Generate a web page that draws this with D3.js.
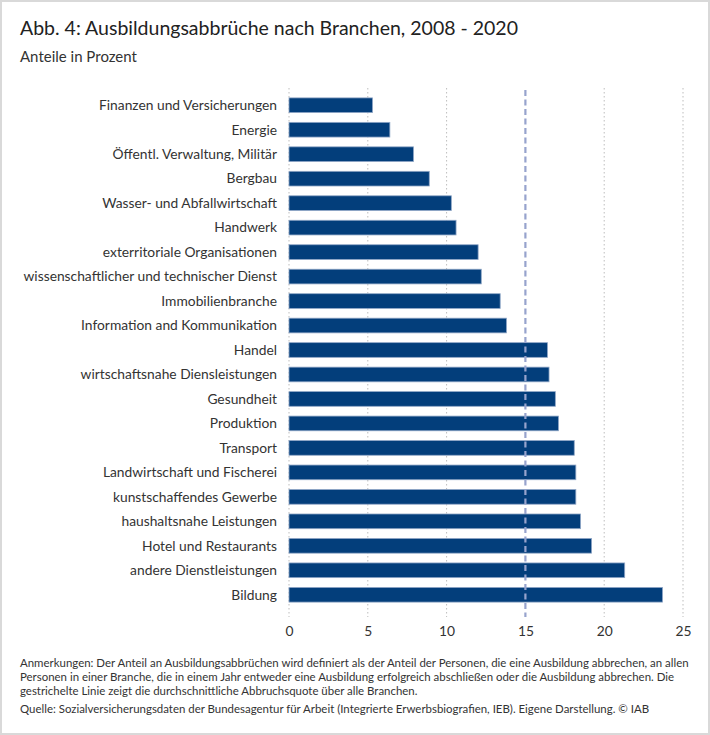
<!DOCTYPE html>
<html>
<head>
<meta charset="utf-8">
<script src="https://cdn.jsdelivr.net/npm/d3@7"></script>
<style>
  body { margin: 0; background: #fff; }
  svg text { font-family: "Source Sans Pro", Lato, sans-serif; }
</style>
</head>
<body>
<svg id="chart" width="710" height="735"></svg>
<script>
// branch names, top to bottom
const branchen = [
  'Finanzen und Versicherungen',
  'Energie',
  'Öffentl. Verwaltung, Militär',
  'Bergbau',
  'Wasser- und Abfallwirtschaft',
  'Handwerk',
  'exterritoriale Organisationen',
  'wissenschaftlicher und technischer Dienst',
  'Immobilienbranche',
  'Information and Kommunikation',
  'Handel',
  'wirtschaftsnahe Diensleistungen',
  'Gesundheit',
  'Produktion',
  'Transport',
  'Landwirtschaft und Fischerei',
  'kunstschaffendes Gewerbe',
  'haushaltsnahe Leistungen',
  'Hotel und Restaurants',
  'andere Dienstleistungen',
  'Bildung'
]
// share of dropouts in percent
const anteile = [5.3, 6.4, 7.9, 8.9, 10.3, 10.6, 12.0, 12.2, 13.4, 13.8, 16.4, 16.5, 16.9, 17.1, 18.1, 18.2, 18.2, 18.5, 19.2, 21.3, 23.7]
const durchschnitt = 15
const xTicks = [0, 5, 10, 15, 20, 25]

const anmerkungen = [
  'Anmerkungen: Der Anteil an Ausbildungsabbrüchen wird definiert als der Anteil der Personen, die eine Ausbildung abbrechen, an allen',
  'Personen in einer Branche, die in einem Jahr entweder eine Ausbildung erfolgreich abschließen oder die Ausbildung abbrechen. Die',
  'gestrichelte Linie zeigt die durchschnittliche Abbruchsquote über alle Branchen.'
]
const quelle = 'Quelle: Sozialversicherungsdaten der Bundesagentur für Arbeit (Integrierte Erwerbsbiografien, IEB). Eigene Darstellung.  © IAB'

const svg = d3.select('#chart')

// frame
svg.append('rect').attr('x', 1).attr('y', 1).attr('width', 708).attr('height', 733)
  .attr('fill', '#fff').attr('stroke', '#d9d9d9').attr('stroke-width', 2)

svg.append('text').attr('x', 20).attr('y', 35)
  .attr('font-size', 19.5).attr('fill', '#222')
  .text('Abb. 4: Ausbildungsabbrüche nach Branchen, 2008 - 2020')
svg.append('text').attr('x', 20).attr('y', 62)
  .attr('font-size', 15).attr('fill', '#333')
  .text('Anteile in Prozent')

const x = d3.scaleLinear().domain([0, 25]).range([289, 683])
const y = d3.scaleBand().domain(branchen).range([93, 607]).paddingInner(0.4).paddingOuter(0.2)

const g = svg.append('g')

// dotted grid lines
g.selectAll('.grid').data(xTicks.filter(d => d !== durchschnitt)).enter().append('line')
  .attr('x1', d => x(d)).attr('x2', d => x(d))
  .attr('y1', 88).attr('y2', 617)
  .attr('stroke', '#bdbdbd').attr('stroke-width', 1).attr('stroke-dasharray', '1.5,2.5')

// bars
g.selectAll('.bar').data(anteile).enter().append('rect')
  .attr('x', x(0))
  .attr('y', (d, i) => y(branchen[i]))
  .attr('width', d => x(d) - x(0))
  .attr('height', y.bandwidth())
  .attr('fill', '#033e7b')
  .attr('stroke', '#8fa6c6').attr('stroke-width', 0.8)

// average line
g.append('line')
  .attr('x1', x(durchschnitt)).attr('x2', x(durchschnitt))
  .attr('y1', 90).attr('y2', 617)
  .attr('stroke', '#97a3cd').attr('stroke-width', 2.2).attr('stroke-dasharray', '6,3.5')

// category labels
g.selectAll('.lab').data(branchen).enter().append('text')
  .attr('x', 277)
  .attr('y', d => y(d) + y.bandwidth() / 2)
  .attr('dy', '0.35em')
  .attr('text-anchor', 'end')
  .attr('font-size', 13.8).attr('fill', '#333')
  .text(d => d)

// x axis labels
const axis = d3.axisBottom(x).tickValues(xTicks).tickSize(0).tickPadding(0)
const ax = svg.append('g').attr('transform', 'translate(0,626)').call(axis)
ax.select('.domain').remove()
ax.selectAll('text').attr('font-size', 13.8).attr('fill', '#333').attr('dy', '0.71em')
  .style('font-family', '"Source Sans Pro", Lato, sans-serif')

// notes
svg.selectAll('.note').data(anmerkungen).enter().append('text')
  .attr('x', 20).attr('y', (d, i) => 667 + i * 14)
  .attr('font-size', 11.45).attr('fill', '#333')
  .text(d => d)
svg.append('text').attr('x', 20).attr('y', 713)
  .attr('font-size', 11.45).attr('fill', '#333')
  .text(quelle)
</script>
</body>
</html>
